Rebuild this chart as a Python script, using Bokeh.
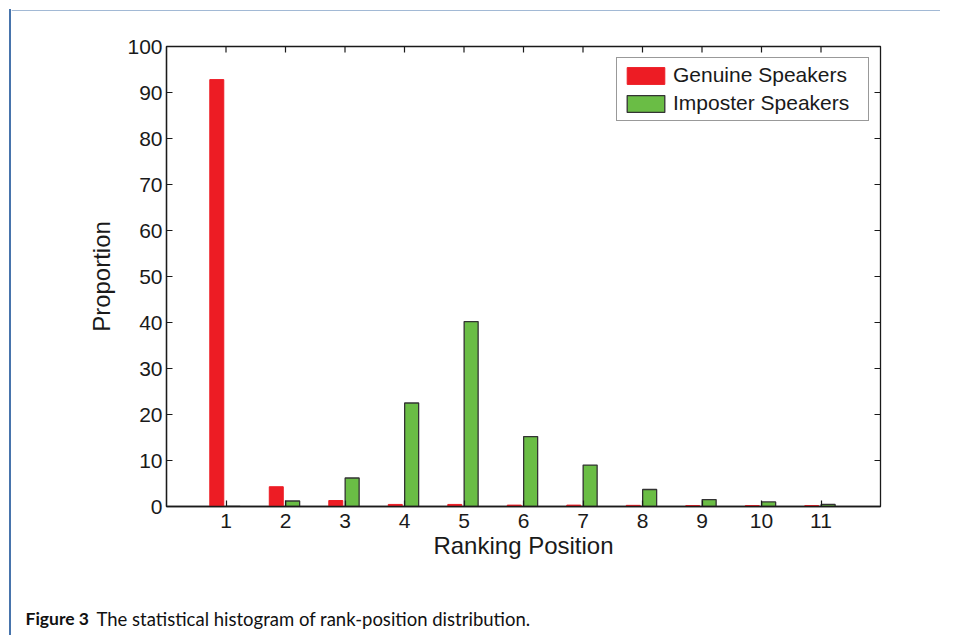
from math import pi
from bokeh.plotting import figure
from bokeh.layouts import column, row
from bokeh.models import (ColumnDataSource, LinearAxis, Range1d, FixedTicker,
                          Legend, LegendItem, Div)
from bokeh.transform import dodge
from bokeh.core.properties import value
from bokeh.embed import file_html
from bokeh.resources import INLINE

# ---- data ----
positions = [1, 2, 3, 4, 5, 6, 7, 8, 9, 10, 11]
tick_labels = [str(v) for v in positions]
y_ticks = [0, 10, 20, 30, 40, 50, 60, 70, 80, 90, 100]
genuine = [92.8, 4.3, 1.3, 0.45, 0.45, 0.3, 0.3, 0.25, 0.2, 0.2, 0.2]
imposter = [0.0, 1.2, 6.2, 22.5, 40.2, 15.2, 9.0, 3.7, 1.5, 1.0, 0.45]
series_names = ["Genuine Speakers", "Imposter Speakers"]
x_label = "Ranking Position"
y_label = "Proportion"
caption_bold = ["Figure 3"]
caption_text = ["The statistical histogram of rank-position distribution."]

FONT = "Liberation Sans"
CAP_FONT = "Lato"
RED = "#ed1c24"
GREEN = "#6abd45"
INK = "#1a1a1a"
BLUE = "#4774ac"

W = 940            # total width
OFF = 11           # size of top / left strips carrying the blue rules
HM = 556           # main chart height
HC = 68            # caption strip height
HT = OFF + HM + HC
WM = W - OFF

# frame edges of the main chart (in its own canvas)
FL, FT, FR, FB = 166 - OFF, 46 - OFF, 880 - OFF, 506 - OFF


def blank(width, height, xr, yr):
    f = figure(width=width, height=height, output_backend="svg",
               toolbar_location=None, x_range=Range1d(*xr), y_range=Range1d(*yr),
               x_axis_location=None, y_axis_location=None,
               min_border_left=0, min_border_right=0, min_border_top=0,
               min_border_bottom=0)
    f.grid.visible = False
    f.outline_line_color = None
    f.background_fill_color = "white"
    f.border_fill_color = "white"
    return f


# ---- left strip: vertical blue rule over the whole height ----
left_strip = Div(text="", width=OFF, height=HT, margin=0,
                 styles={"background-image":
                         f"linear-gradient(to right, {BLUE}, {BLUE})",
                         "background-size": "2px calc(100% - 9px)",
                         "background-position": "9px 9px",
                         "background-repeat": "no-repeat"})

# ---- top strip: horizontal blue rule ----
top_strip = blank(WM, OFF, (OFF, W), (OFF, 0))
top_strip.quad(left=[OFF], right=[W], top=[9], bottom=[11], fill_color=BLUE,
               line_color=None)

# ---- main chart ----
x_end, y_end = 12, 100
src = ColumnDataSource(dict(pos=positions, genuine=genuine, imposter=imposter))

p = figure(width=WM, height=HM, output_backend="svg", toolbar_location=None,
           x_range=Range1d(0, x_end), y_range=Range1d(0, y_end),
           x_axis_location=None, y_axis_location=None,
           min_border_left=FL, min_border_right=WM - FR,
           min_border_top=FT, min_border_bottom=HM - FB)
p.grid.visible = False
p.outline_line_color = INK
p.outline_line_width = 1.3
p.background_fill_color = "white"
p.border_fill_color = "white"


def style_axis(ax):
    ax.axis_line_color = INK
    ax.axis_line_width = 1.3
    ax.major_tick_line_color = INK
    ax.major_tick_line_width = 1.2
    ax.major_tick_in = 6
    ax.major_tick_out = 0
    ax.minor_tick_line_color = None
    ax.major_label_text_font = FONT
    ax.major_label_text_color = INK
    ax.major_label_text_font_size = "21px"
    ax.axis_label_text_font = FONT
    ax.axis_label_text_font_size = "24px"
    ax.axis_label_text_font_style = "normal"
    ax.axis_label_text_color = INK


bottom = LinearAxis(ticker=FixedTicker(ticks=positions), axis_label=x_label)
bottom.major_label_overrides = {p_: l for p_, l in zip(positions, tick_labels)}
style_axis(bottom)
bottom.major_label_standoff = 7
bottom.axis_label_standoff = 1
p.add_layout(bottom, "below")

left = LinearAxis(ticker=FixedTicker(ticks=y_ticks), axis_label=y_label)
style_axis(left)
left.major_label_standoff = 4
left.axis_label_standoff = 9
p.add_layout(left, "left")

# inward ticks on the top and right edges of the box
p.ray(x=positions, y=y_end, length=6, length_units="screen", angle=-pi / 2,
      line_color=INK, line_width=1.2)
p.ray(x=x_end, y=y_ticks, length=6, length_units="screen", angle=pi,
      line_color=INK, line_width=1.2)

r1 = p.vbar(x=dodge("pos", -0.155, range=p.x_range), top="genuine", width=0.235,
            source=src, fill_color=RED, line_color=RED, line_width=1)
r2 = p.vbar(x=dodge("pos", 0.12, range=p.x_range), top="imposter", width=0.235,
            source=src, fill_color=GREEN, line_color="#333333", line_width=1.3)

legend = Legend(items=[LegendItem(label=series_names[0], renderers=[r1]),
                       LegendItem(label=series_names[1], renderers=[r2])],
                location="top_right")
legend.label_text_font = FONT
legend.label_text_font_size = "21px"
legend.label_text_color = INK
legend.glyph_width = 47
legend.glyph_height = 21
legend.label_height = 21
legend.label_width = 190
legend.label_standoff = 4
legend.spacing = 4
legend.padding = 5
legend.margin = 11
legend.border_line_color = "#333333"
legend.border_line_width = 1.5
legend.background_fill_color = "white"
legend.background_fill_alpha = 1
p.add_layout(legend)

# ---- caption strip (x in page pixels, y downward from strip top) ----
cap = blank(WM, HC, (OFF, W), (HC, 0))
cap.text(x=[25], y=[40], text=caption_bold, text_font=value(CAP_FONT),
         text_font_style="bold", text_font_size="17.5px", text_baseline="top",
         text_color="#111111")
cap.text(x=[96], y=[40], text=caption_text, text_font=value(CAP_FONT),
         text_font_size="18.5px", text_baseline="top", text_color="#111111")

layout = row(left_strip,
             column(top_strip, row(p, spacing=0), cap, spacing=0),
             spacing=0)

open("out.html", "w").write(file_html(layout, INLINE))
